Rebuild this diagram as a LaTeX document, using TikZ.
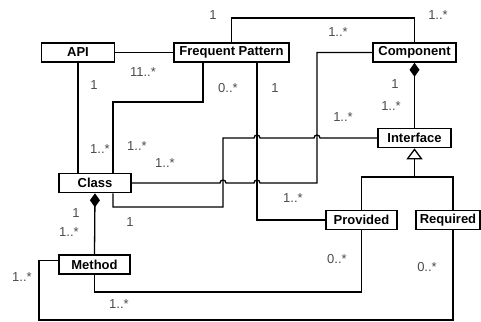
\documentclass[tikz,border=0pt]{standalone}
\usepackage{fontspec}
\setmainfont{Liberation Sans}
\usetikzlibrary{arrows.meta, calc}

% line hop over a crossing vertical line
\newcommand\hop[1]{-- ($(#1)+(-3,0)$) arc[start angle=180, end angle=0, radius=3pt]}

\begin{document}
\begin{tikzpicture}[x=1pt, y=-1pt, >=Stealth, line width=1.3pt]

  % Define styles
  \tikzset{
    uml/.style={draw, line width=1.6pt, fill=white, inner sep=0pt,
      minimum height=19pt, font=\fontsize{13}{15}\selectfont\bfseries},
    mult/.style={inner sep=0pt, text=black!70, font=\fontsize{13}{15}\selectfont},
    composite/.style={{Diamond[length=14pt,width=10pt]}-},
    general/.style={-{Triangle[open,length=11pt,width=16pt]}}
  }
  \useasboundingbox (0,0) rectangle (481,321);

  % Classes
  \node[uml, minimum width=73pt] (api) at (78,52.5) {API};
  \node[uml, minimum width=115pt] (fp) at (231.5,52.5) {Frequent Pattern};
  \node[uml, minimum width=83pt] (component) at (414.5,52.5) {Component};
  \node[uml, minimum width=73pt] (iface) at (414.5,138) {Interface};
  \node[uml, minimum width=72pt] (class) at (95,183) {Class};
  \node[uml, minimum width=71pt] (method) at (94.5,264.5) {Method};
  \node[uml, minimum width=71pt] (prov) at (361.5,220) {Provided};
  \node[uml, minimum width=64pt] (req) at (448,220) {Required};

  % Bend points
  \coordinate (top) at (320,18);
  \coordinate (fpa) at (203,102);
  \coordinate (fpb) at (113,102);
  \coordinate (fv) at (257,120);
  \coordinate (cv) at (317,120);
  \coordinate (iv) at (223,207);
  \coordinate (ic) at (113,207);
  \coordinate (gj) at (414.5,177);
  \coordinate (rq) at (453,177);
  \coordinate (mp) at (230,292);
  \coordinate (mr) at (39,320);

  % Crossings
  \coordinate (h1) at (fv |- iface.west);
  \coordinate (h2) at (cv |- iface.west);
  \coordinate (h3) at (iv |- class.east);
  \coordinate (h4) at (fv |- class.east);

  % Associations
  \draw (api.east) -- (fp.west);
  \draw (api.south) -- (api.south |- class.north);
  \draw (fp.south -| fpa) -- (fpa) -- (fpb) -- (class.north -| fpb);
  \draw (fp.north) |- (top) -| (component.north);
  \draw (fp.south -| fv) |- (prov.west);
  \draw (class.east) \hop{h3} \hop{h4} -| (component.west -| cv) -- (component.west);
  \draw (class.south -| ic) -- (ic) -- (iv) -- (iv |- iface.west) \hop{h1} \hop{h2} -- (iface.west);
  \draw (method.south) |- (mp) -| (prov.south);
  \draw ($(method.west)+(0,-4)$) -| (mr) -| (req.south -| rq);

  % Composition and generalization
  \draw[composite] (component.south) -- (iface.north);
  \draw[composite] (class.south) -- (method.north);
  \draw[general] (gj) -- (iface.south);
  \draw (prov.north) |- (gj) -| (req.north -| rq);

  % Multiplicities
  \node[mult] (m1) at (213,15) {1};
  \node[mult] (m2) at (438,15) {1..*};
  \node[mult] (m3) at (143,72) {11..*};
  \node[mult] (m4) at (94,85) {1};
  \node[mult] (m5) at (228,88) {0..*};
  \node[mult] (m6) at (338,32) {1..*};
  \node[mult] (m7) at (275,88) {1};
  \node[mult] (m8) at (395,84) {1};
  \node[mult] (m9) at (391,106) {1..*};
  \node[mult] (m10) at (343,117) {1..*};
  \node[mult] (m11) at (100,149) {1..*};
  \node[mult] (m12) at (137,146) {1..*};
  \node[mult] (m13) at (165,163) {1..*};
  \node[mult] (m14) at (130,222) {1};
  \node[mult] (m15) at (293,198) {1..*};
  \node[mult] (m16) at (76,213) {1};
  \node[mult] (m17) at (69,232) {1..*};
  \node[mult] (m18) at (22,277) {1..*};
  \node[mult] (m19) at (337,259) {0..*};
  \node[mult] (m20) at (427,267) {0..*};
  \node[mult] (m21) at (119,304) {1..*};

\end{tikzpicture}
\end{document}
